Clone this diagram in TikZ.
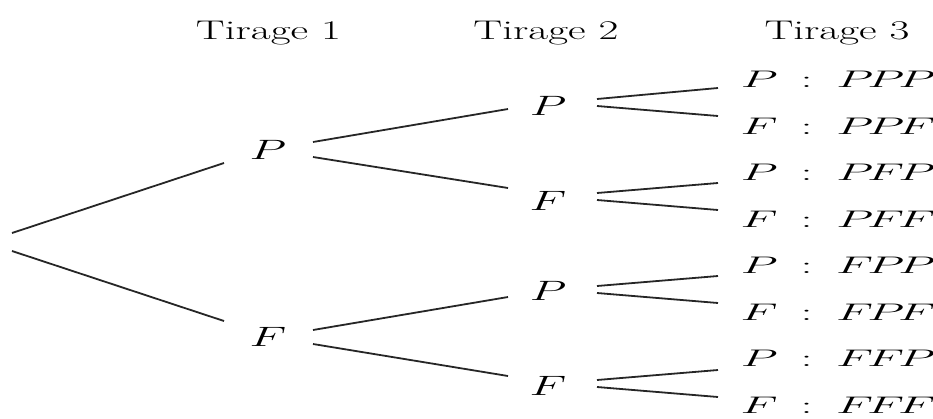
\RequirePackage{fix-cm}
\documentclass[tikz,border=0pt]{standalone}
\usepackage{pdfrender}
\usetikzlibrary{calc}
\newcommand{\bld}[1]{\textpdfrender{TextRenderingMode=FillStroke,LineWidth=0.9pt}{#1}}
\newcommand{\sx}[1]{\bld{\scalebox{1.7}[1]{#1}}}
\newcommand{\tx}[1]{\bld{\scalebox{1.6}[1]{#1}}}
\newcommand{\lfg}[1]{\scalebox{2.0}[1]{$#1$}}
\newcommand{\leaftxt}[4]{\bld{\makebox[30pt]{\lfg{#1}}\makebox[65pt]{\lfg{:}}\makebox[31pt]{\lfg{#2}}\makebox[31pt]{\lfg{#3}}\makebox[31pt]{\lfg{#4}}}}
\begin{document}
\begin{tikzpicture}[x=1pt,y=-1pt,
  every node/.style={inner sep=0pt, font=\fontsize{28}{32}\selectfont},
  title/.style={anchor=base, font=\fontsize{27}{31}\selectfont},
  lvl/.style={},
  leaf/.style={anchor=west, font=\fontsize{24}{28}\selectfont},
  branch/.style={line width=1.8pt, black!85}]
\useasboundingbox (0,0) rectangle (933,418);
\node[title] (t1) at (268.5,39) {\tx{Tirage 1}};
\node[title] (t2) at (546,39) {\tx{Tirage 2}};
\node[title] (t3) at (837,39) {\tx{Tirage 3}};
\coordinate (r) at (12,242);
\node[lvl] (p1) at (268,150) {\sx{$P$}};
\node[lvl] (f1) at (268,337) {\sx{$F$}};
\node[lvl] (p2a) at (548,106) {\sx{$P$}};
\node[lvl] (f2a) at (548,201) {\sx{$F$}};
\node[lvl] (p2b) at (548,291) {\sx{$P$}};
\node[lvl] (f2b) at (548,385.5) {\sx{$F$}};
\node[leaf] (l1) at (744,79.5) {\leaftxt{P}{P}{P}{P}};
\node[leaf] (l2) at (744,126) {\leaftxt{F}{P}{P}{F}};
\node[leaf] (l3) at (744,172.5) {\leaftxt{P}{P}{F}{P}};
\node[leaf] (l4) at (744,219) {\leaftxt{F}{P}{F}{F}};
\node[leaf] (l5) at (744,265.5) {\leaftxt{P}{F}{P}{P}};
\node[leaf] (l6) at (744,312) {\leaftxt{F}{F}{P}{F}};
\node[leaf] (l7) at (744,358.5) {\leaftxt{P}{F}{F}{P}};
\node[leaf] (l8) at (744,405) {\leaftxt{F}{F}{F}{F}};
\draw[branch] ($(r)+(0,-9)$) -- ($(p1)+(-44,13)$);
\draw[branch] ($(r)+(0,9)$) -- ($(f1)+(-44,-16)$);
\draw[branch] ($(p1)+(45,-8)$) -- ($(p2a)+(-40,3)$);
\draw[branch] ($(p1)+(45,7)$) -- ($(f2a)+(-40,-13)$);
\draw[branch] ($(f1)+(45,-7)$) -- ($(p2b)+(-40,6)$);
\draw[branch] ($(f1)+(45,7)$) -- ($(f2b)+(-40,-9.5)$);
\draw[branch] ($(p2a)+(49,-7)$) -- ($(l1.west)+(-26,8.5)$);
\draw[branch] ($(p2a)+(49,0)$) -- ($(l2.west)+(-26,-10)$);
\draw[branch] ($(f2a)+(49,-8)$) -- ($(l3.west)+(-26,10.5)$);
\draw[branch] ($(f2a)+(49,-1)$) -- ($(l4.west)+(-26,-9)$);
\draw[branch] ($(p2b)+(49,-5)$) -- ($(l5.west)+(-26,10.5)$);
\draw[branch] ($(p2b)+(49,2)$) -- ($(l6.west)+(-26,-9)$);
\draw[branch] ($(f2b)+(49,-5.5)$) -- ($(l7.west)+(-26,11.5)$);
\draw[branch] ($(f2b)+(49,1.5)$) -- ($(l8.west)+(-26,-8)$);
\end{tikzpicture}
\end{document}
